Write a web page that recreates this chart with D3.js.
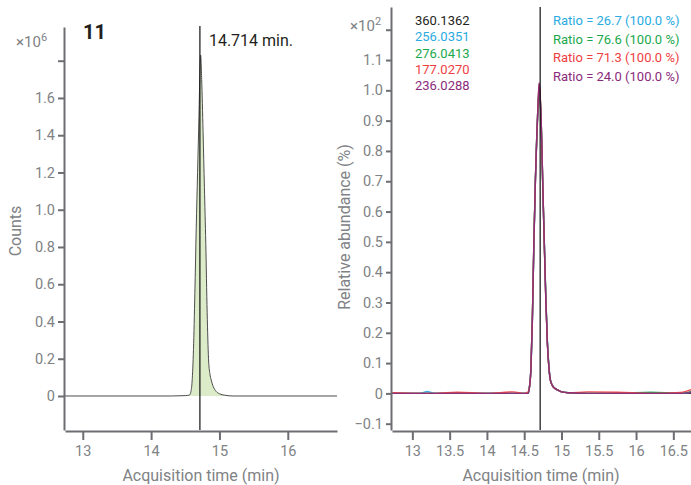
<!DOCTYPE html>
<html>
<head>
<meta charset="utf-8">
<script src="https://cdn.jsdelivr.net/npm/d3@7"></script>
<style>
  body { margin: 0; background: #fff; }
  svg { font-family: Roboto, "Noto Sans", sans-serif; }
  .axis path, .axis line { stroke: #6d6e71; stroke-width: 2; }
  .axis text { fill: #808285; font-size: 14.5px; font-family: Roboto, sans-serif; }
  .title { fill: #808285; font-size: 16px; }
</style>
</head>
<body>
<div id="chart"></div>
<script>
var width = 691;
var height = 485;

// ---- data ----
var markerTime = 14.714;
var compoundLabel = "11";

// left: TIC, counts x10^6
var ticTimes  = [12.74, 14.3, 14.5, 14.56, 14.58, 14.60, 14.62, 14.64, 14.66, 14.68, 14.70, 14.715, 14.725, 14.74, 14.76, 14.78, 14.80, 14.82, 14.84, 14.86, 14.88, 14.91, 14.95, 15.0, 15.08, 15.2, 16.72];
var ticCounts = [0, 0, 0.002, 0.005, 0.02, 0.08, 0.25, 0.55, 0.9, 1.2, 1.5, 1.75, 1.83, 1.7, 1.42, 1.12, 0.82, 0.45, 0.2, 0.12, 0.085, 0.05, 0.025, 0.012, 0.004, 0, 0];
var ticYTicks = [0, 0.2, 0.4, 0.6, 0.8, 1.0, 1.2, 1.4, 1.6, 1.8];
var ticXTicks = [13, 14, 15, 16];

// right: ion traces, relative abundance x10^2
var ionTimes = [12.73, 13.1, 13.2, 13.3, 13.6, 14.0, 14.35, 14.5, 14.55, 14.57, 14.59, 14.61, 14.63, 14.65, 14.67, 14.69, 14.70, 14.71, 14.73, 14.75, 14.77, 14.79, 14.81, 14.83, 14.85, 14.88, 14.92, 14.96, 15.02, 15.1, 15.35, 15.75, 16.2, 16.6, 16.74];
var ionMasses = ["360.1362", "256.0351", "276.0413", "177.0270", "236.0288"];
var ionColors = ["#231f20", "#29abe2", "#1ba84c", "#ef3e42", "#8b2b7b"];
var ionRatios = ["Ratio = 26.7 (100.0 %)", "Ratio = 76.6 (100.0 %)", "Ratio = 71.3 (100.0 %)", "Ratio = 24.0 (100.0 %)"];
var ion360 = [0, 0, 0, 0, 0, 0, 0, 0, 0, 0.02, 0.08, 0.25, 0.5, 0.7, 0.85, 0.96, 1.0, 0.98, 0.87, 0.67, 0.49, 0.31, 0.17, 0.09, 0.045, 0.025, 0.015, 0.01, 0.004, 0.002, 0, 0, 0, 0, 0];
var ion256 = [0, 0, 0.006, 0, 0, 0, 0, 0, 0, 0.02, 0.08, 0.24, 0.49, 0.7, 0.86, 0.97, 1.01, 0.99, 0.88, 0.68, 0.5, 0.32, 0.18, 0.095, 0.048, 0.026, 0.015, 0.01, 0.004, 0.002, 0, 0, 0.002, 0, 0.004];
var ion276 = [0, 0, 0, 0, 0.002, 0, 0, 0, 0, 0.02, 0.08, 0.25, 0.5, 0.71, 0.86, 0.97, 1.005, 0.99, 0.88, 0.68, 0.5, 0.32, 0.175, 0.09, 0.046, 0.025, 0.015, 0.01, 0.004, 0.002, 0, 0, 0.004, 0, 0.006];
var ion177 = [0.002, 0, 0, 0, 0.004, 0, 0.005, 0, 0.004, 0.02, 0.08, 0.25, 0.5, 0.7, 0.86, 0.98, 1.02, 1.0, 0.88, 0.68, 0.49, 0.31, 0.17, 0.09, 0.045, 0.025, 0.015, 0.01, 0.004, 0.002, 0.005, 0.004, 0, 0.003, 0.012];
var ion236 = [0, 0, 0, 0, 0, 0, 0, 0, 0, 0.02, 0.08, 0.25, 0.5, 0.7, 0.86, 0.98, 1.025, 1.0, 0.88, 0.68, 0.49, 0.31, 0.17, 0.09, 0.045, 0.025, 0.015, 0.01, 0.004, 0.002, 0, 0, 0, 0, 0.004];
var ionSeries = [ion360, ion256, ion276, ion177, ion236];
var ionYTicks = [-0.1, 0, 0.1, 0.2, 0.3, 0.4, 0.5, 0.6, 0.7, 0.8, 0.9, 1.0, 1.1, 1.2];
var ionXTicks = [13, 13.5, 14, 14.5, 15, 15.5, 16, 16.5];

var svg = d3.select("#chart").append("svg")
    .attr("width", width)
    .attr("height", height);

// ================= LEFT PANEL =================
var xScale = d3.scaleLinear().domain([12.74, 16.72]).range([65, 337]);
var yScale = d3.scaleLinear().domain([-0.1826, 1.981]).range([430, 27]);

var xAxis = d3.axisBottom(xScale).tickValues(ticXTicks).tickFormat(d3.format("d"))
    .tickSize(9).tickSizeOuter(0).tickPadding(6);
var yAxis = d3.axisLeft(yScale).tickValues(ticYTicks)
    .tickFormat(function(d) { return d === 0 ? "0" : (d > 1.7 ? "" : d3.format(".1f")(d)); })
    .tickSize(6).tickSizeOuter(0).tickPadding(3);

var ticData = ticTimes.map(function(t, i) { return [t, ticCounts[i]]; });

var area = d3.area()
    .x(function(d) { return xScale(d[0]); })
    .y0(yScale(0))
    .y1(function(d) { return yScale(d[1]); })
    .curve(d3.curveMonotoneX);
var line = d3.line()
    .x(function(d) { return xScale(d[0]); })
    .y(function(d) { return yScale(d[1]); })
    .curve(d3.curveMonotoneX);

svg.append("path")
    .datum(ticData)
    .attr("d", area)
    .attr("fill", "#dcebc8");
svg.append("path")
    .datum(ticData)
    .attr("d", line)
    .attr("fill", "none")
    .attr("stroke", "#4d4d4d")
    .attr("stroke-width", 1);

// retention time marker
svg.append("line")
    .attr("x1", xScale(markerTime)).attr("x2", xScale(markerTime))
    .attr("y1", 26).attr("y2", 430)
    .attr("stroke", "#111").attr("stroke-width", 1.2);

svg.append("text")
    .attr("x", xScale(markerTime) + 9)
    .attr("y", 46)
    .attr("fill", "#231f20")
    .style("font-size", "16px")
    .text(markerTime.toFixed(3) + " min.");

svg.append("text")
    .attr("x", 83)
    .attr("y", 39)
    .attr("fill", "#231f20")
    .style("font-size", "20px")
    .style("font-weight", "bold")
    .text(compoundLabel);

svg.append("g")
    .attr("class", "axis")
    .attr("transform", "translate(0,431)")
    .call(xAxis);
svg.append("g")
    .attr("class", "axis")
    .attr("transform", "translate(64,0)")
    .call(yAxis);

var mult1 = svg.append("text")
    .attr("x", 16)
    .attr("y", 47)
    .attr("fill", "#808285")
    .style("font-size", "15px");
mult1.append("tspan").text("\u00d710");
mult1.append("tspan").attr("dy", -6).style("font-size", "11px").text("6");

svg.append("text")
    .attr("class", "title")
    .attr("x", 201)
    .attr("y", 481)
    .style("text-anchor", "middle")
    .text("Acquisition time (min)");

svg.append("text")
    .attr("class", "title")
    .attr("transform", "translate(21,231) rotate(-90)")
    .style("text-anchor", "middle")
    .text("Counts");

// ================= RIGHT PANEL =================
var xScale2 = d3.scaleLinear().domain([12.727, 16.737]).range([392, 691]);
var yScale2 = d3.scaleLinear().domain([-0.1208, 1.275]).range([430, 7]);

var xAxis2 = d3.axisBottom(xScale2).tickValues(ionXTicks).tickFormat(function(d) { return d % 1 === 0 ? d : d.toFixed(1); })
    .tickSize(9).tickSizeOuter(0).tickPadding(6);
var yAxis2 = d3.axisLeft(yScale2).tickValues(ionYTicks)
    .tickFormat(function(d) { return Math.abs(d) < 1e-9 ? "0" : (d > 1.15 ? "" : d3.format(".1f")(d)); })
    .tickSize(5).tickSizeOuter(0).tickPadding(3);

var line2 = d3.line()
    .x(function(d) { return xScale2(d[0]); })
    .y(function(d) { return yScale2(d[1]); })
    .curve(d3.curveMonotoneX);

ionSeries.forEach(function(vals, k) {
    svg.append("path")
        .datum(ionTimes.map(function(t, i) { return [t, vals[i]]; }))
        .attr("d", line2)
        .attr("fill", "none")
        .attr("stroke", ionColors[k])
        .attr("stroke-width", 1.4)
        .attr("stroke-opacity", 0.9);
});

svg.append("line")
    .attr("x1", xScale2(markerTime)).attr("x2", xScale2(markerTime))
    .attr("y1", 7).attr("y2", 430)
    .attr("stroke", "#111").attr("stroke-width", 1.2);

svg.append("g")
    .attr("class", "axis")
    .attr("transform", "translate(0,431)")
    .call(xAxis2);
svg.append("g")
    .attr("class", "axis")
    .attr("transform", "translate(391,0)")
    .call(yAxis2);

// mass list
svg.selectAll(".mass")
    .data(ionMasses)
    .enter()
    .append("text")
    .attr("class", "mass")
    .attr("x", 415)
    .attr("y", function(d, i) { return 25 + i * 16.3; })
    .attr("fill", function(d, i) { return ionColors[i]; })
    .style("font-size", "13px")
    .text(function(d) { return d; });

// qualifier ratios
svg.selectAll(".ratio")
    .data(ionRatios)
    .enter()
    .append("text")
    .attr("class", "ratio")
    .attr("x", 553)
    .attr("y", function(d, i) { return 25 + i * 18.5; })
    .attr("fill", function(d, i) { return ionColors[i + 1]; })
    .style("font-size", "13px")
    .text(function(d) { return d; });

var mult2 = svg.append("text")
    .attr("x", 350)
    .attr("y", 31)
    .attr("fill", "#808285")
    .style("font-size", "15px");
mult2.append("tspan").text("\u00d710");
mult2.append("tspan").attr("dy", -6).style("font-size", "11px").text("2");

svg.append("text")
    .attr("class", "title")
    .attr("x", 541)
    .attr("y", 481)
    .style("text-anchor", "middle")
    .text("Acquisition time (min)");

svg.append("text")
    .attr("class", "title")
    .attr("transform", "translate(350,227) rotate(-90)")
    .style("text-anchor", "middle")
    .text("Relative abundance (%)");
</script>
</body>
</html>
